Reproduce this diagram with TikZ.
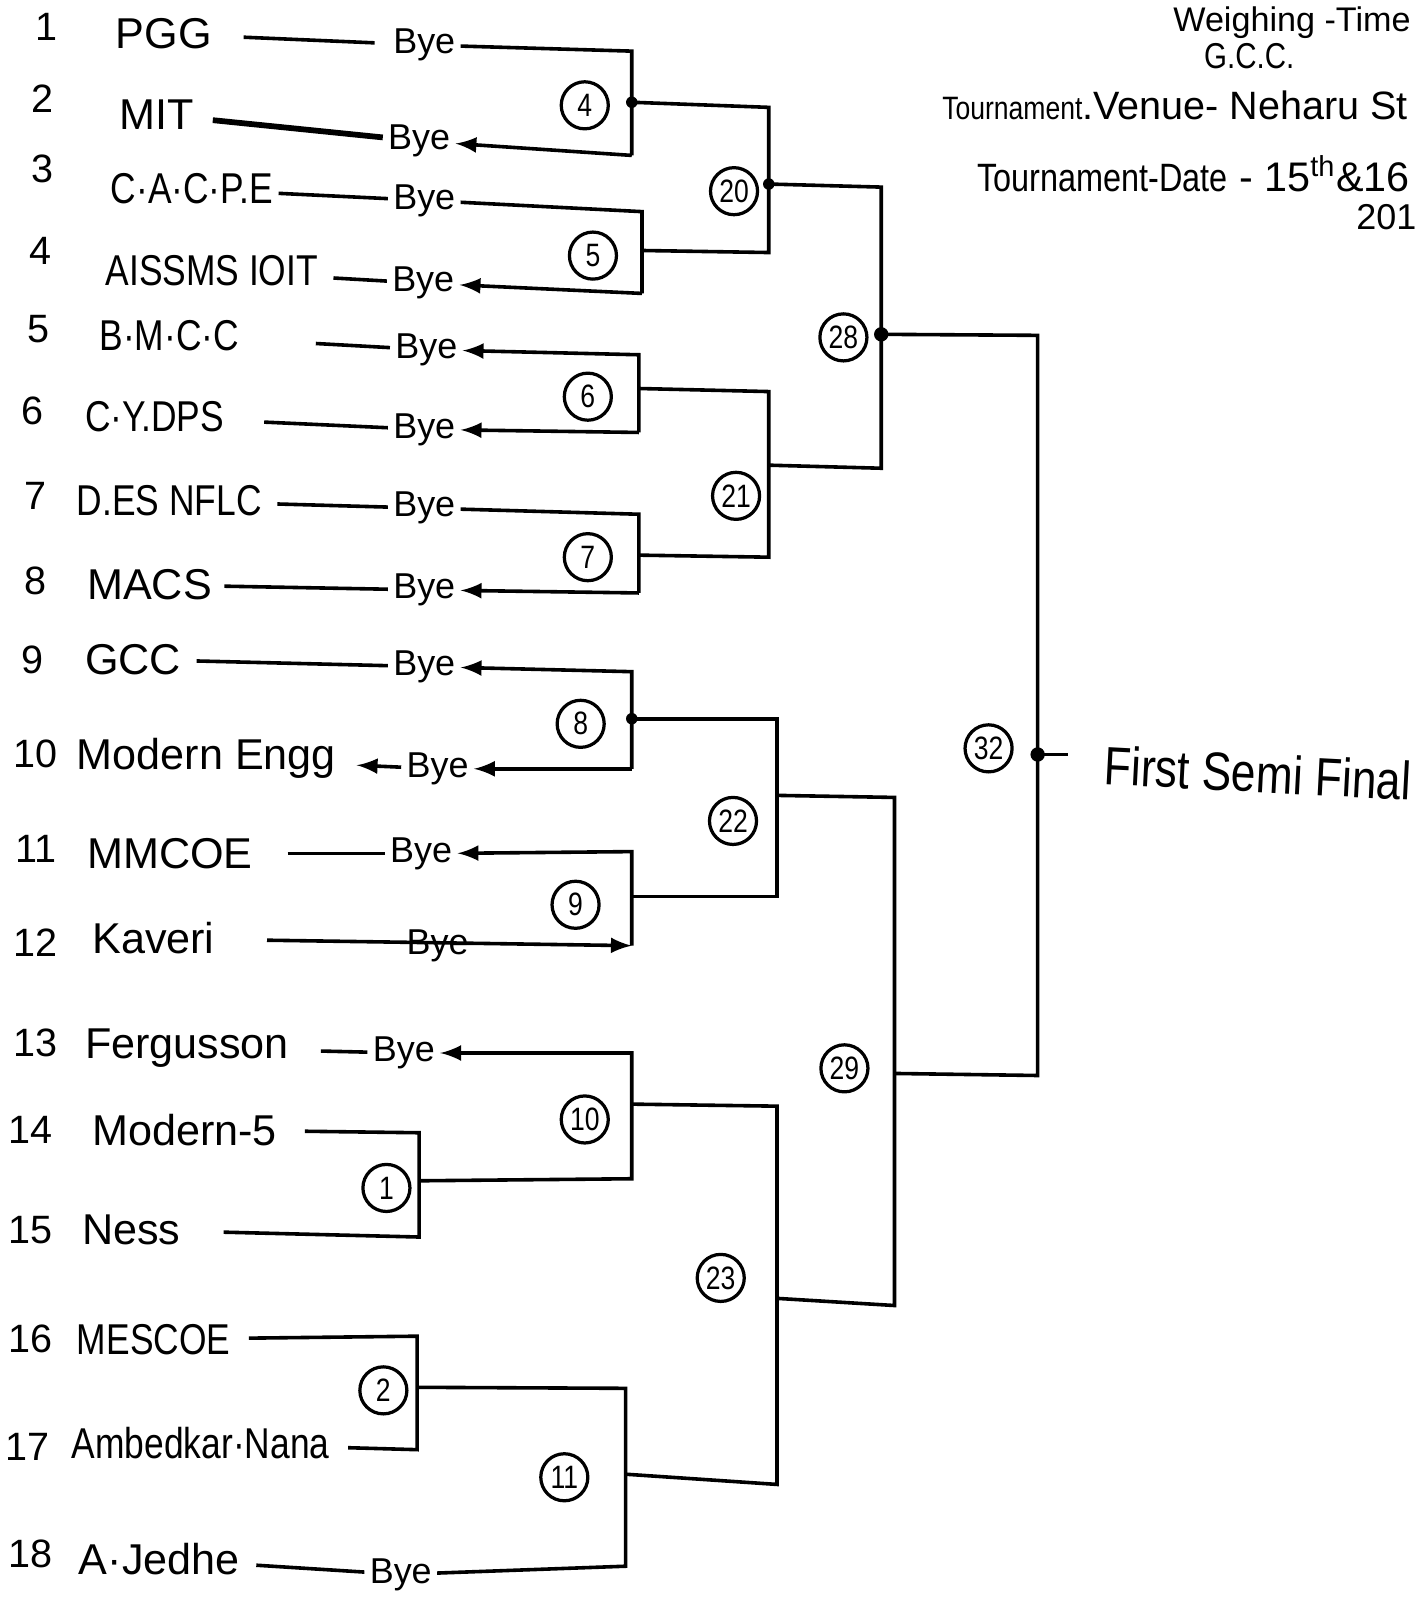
\documentclass[tikz,border=0pt]{standalone}
\usepackage{fontspec}
\setmainfont{Liberation Sans}
\newfontfamily\narrowfont{Liberation Sans}[FakeStretch=0.82]
\usepackage{tikz}
\usetikzlibrary{arrows,positioning}

\tikzset{
	team/.style={anchor=west, inner sep=1pt, font=\fontsize{12}{14}\selectfont},
	teamn/.style={team, font=\narrowfont\fontsize{12}{14}\selectfont},
	seed/.style={inner sep=1pt, font=\fontsize{11}{13}\selectfont},
	bye/.style={inner sep=1pt, font=\fontsize{10}{12}\selectfont},
	rnd/.style={draw, circle, line width=0.9pt, inner sep=0pt, minimum size=0.46cm, font=\narrowfont\fontsize{9}{10}\selectfont},
	info/.style={anchor=west, inner sep=0pt}
}

\begin{document}
\begin{tikzpicture}[x=0.01cm, y=-0.01cm, line width=1pt]
	\useasboundingbox (0,0) rectangle (1389,1568);

	\node[seed] (n1) at (45,26) {1};
	\node[team] (t1) at (108,33) {PGG};
	\node[bye] (bye1) at (415,44) {Bye};
	\node[seed] (n2) at (42,97) {2};
	\node[team] (t2) at (112,112) {MIT};
	\node[bye] (bye2) at (410,138) {Bye};
	\node[seed] (n3) at (42,165) {3};
	\node[teamn] (t3) at (103,185) {C·A·C·P.E};
	\node[bye] (bye3) at (415,196) {Bye};
	\node[seed] (n4) at (40,245) {4};
	\node[teamn] (t4) at (98,265) {AISSMS IOIT};
	\node[bye] (bye4) at (414,277) {Bye};
	\node[seed] (n5) at (38,322) {5};
	\node[teamn] (t5) at (92,328) {B·M·C·C};
	\node[bye] (bye5) at (417,342) {Bye};
	\node[seed] (n6) at (32,402) {6};
	\node[teamn] (t6) at (78,408) {C·Y.DPS};
	\node[bye] (bye6) at (415,420) {Bye};
	\node[seed] (n7) at (35,485) {7};
	\node[teamn] (t7) at (70,490) {D.ES NFLC};
	\node[bye] (bye7) at (415,497) {Bye};
	\node[seed] (n8) at (35,568) {8};
	\node[team] (t8) at (80,572) {MACS};
	\node[bye] (bye8) at (415,577) {Bye};
	\node[seed] (n9) at (32,645) {9};
	\node[team] (t9) at (78,645) {GCC};
	\node[bye] (bye9) at (415,652) {Bye};
	\node[seed] (n10) at (35,737) {10};
	\node[team] (t10) at (70,742) {Modern Engg};
	\node[bye] (bye10) at (428,752) {Bye};
	\node[seed] (n11) at (35,830) {11};
	\node[team] (t11) at (80,835) {MMCOE};
	\node[bye] (bye11) at (412,835) {Bye};
	\node[seed] (n12) at (35,922) {12};
	\node[team] (t12) at (85,918) {Kaveri};
	\node[bye] (bye12) at (428,925) {Bye};
	\node[seed] (n13) at (35,1020) {13};
	\node[team] (t13) at (78,1025) {Fergusson};
	\node[bye] (bye13) at (395,1030) {Bye};
	\node[seed] (n14) at (30,1105) {14};
	\node[team] (t14) at (85,1105) {Modern-5};
	\node[seed] (n15) at (30,1203) {15};
	\node[team] (t15) at (75,1203) {Ness};
	\node[seed] (n16) at (30,1310) {16};
	\node[teamn] (t16) at (70,1310) {MESCOE};
	\node[seed] (n17) at (27,1415) {17};
	\node[teamn] (t17) at (65,1412) {Ambedkar·Nana};
	\node[seed] (n18) at (30,1520) {18};
	\node[team] (t18) at (72,1525) {A·Jedhe};
	\node[bye] (bye18) at (392,1540) {Bye};

	\coordinate (m4a) at (618,50);   \coordinate (m4b) at (618,152);   \coordinate (m4) at (618,100);
	\coordinate (m5a) at (628,207);  \coordinate (m5b) at (628,287);   \coordinate (m5) at (628,245);
	\coordinate (m6a) at (625,347);  \coordinate (m6b) at (625,423);   \coordinate (m6) at (625,380);
	\coordinate (m7a) at (625,503);  \coordinate (m7b) at (625,580);   \coordinate (m7) at (625,543);
	\coordinate (m8a) at (618,657);  \coordinate (m8b) at (618,752);   \coordinate (m8) at (618,703);
	\coordinate (m9a) at (618,833);  \coordinate (m9b) at (618,925);   \coordinate (m9) at (618,877);
	\coordinate (m1a) at (410,1108); \coordinate (m1b) at (410,1210);  \coordinate (m1) at (410,1155);
	\coordinate (m10a) at (618,1030); \coordinate (m10b) at (618,1153); \coordinate (m10) at (618,1080);
	\coordinate (m2a) at (408,1307); \coordinate (m2b) at (408,1418);  \coordinate (m2) at (408,1357);
	\coordinate (m11a) at (612,1358); \coordinate (m11b) at (612,1532); \coordinate (m11) at (612,1442);
	\coordinate (m20a) at (752,105); \coordinate (m20b) at (752,247);  \coordinate (m20) at (752,180);
	\coordinate (m21a) at (752,383); \coordinate (m21b) at (752,545);  \coordinate (m21) at (752,455);
	\coordinate (m22a) at (760,703); \coordinate (m22b) at (760,877);  \coordinate (m22) at (760,778);
	\coordinate (m23a) at (760,1082); \coordinate (m23b) at (760,1452); \coordinate (m23) at (760,1270);
	\coordinate (m28a) at (862,183); \coordinate (m28b) at (862,458);  \coordinate (m28) at (862,327);
	\coordinate (m29a) at (875,780); \coordinate (m29b) at (875,1277); \coordinate (m29) at (875,1050);
	\coordinate (m32a) at (1015,328); \coordinate (m32b) at (1015,1052); \coordinate (m32) at (1015,738);
	\coordinate (m32e) at (1045,738);

	\draw[shorten <=0.26cm, shorten >=0.13cm] (t1) -- (bye1);
	\draw[line width=1.6pt, shorten <=0.13cm] (t2) -- (bye2);
	\draw (t3) -- (bye3);
	\draw[shorten <=0.1cm] (t4) -- (bye4);
	\draw[shorten <=0.7cm] (t5) -- (bye5);
	\draw[shorten <=0.34cm] (t6) -- (bye6);
	\draw[shorten <=0.1cm] (t7) -- (bye7);
	\draw[shorten <=0.07cm] (t8) -- (bye8);
	\draw[shorten <=0.1cm] (t9) -- (bye9);
	\draw[-latex, shorten >=0.15cm] (bye10) -- (t10);
	\draw[shorten <=0.29cm] (t11) -- (bye11);
	\draw[-latex, shorten <=0.46cm] (t12) -- (m9b);
	\draw[shorten <=0.26cm] (t13) -- (bye13);
	\draw[shorten <=0.11cm] (t18) -- (bye18);

	\draw (bye1) -- (m4a) -- (m4b);
	\draw[latex-] (bye2) -- (m4b);
	\draw (bye3) -- (m5a) -- (m5b);
	\draw[latex-] (bye4) -- (m5b);
	\draw[latex-] (bye5) -- (m6a) -- (m6b);
	\draw[latex-] (bye6) -- (m6b);
	\draw (bye7) -- (m7a) -- (m7b);
	\draw[latex-] (bye8) -- (m7b);
	\draw[latex-] (bye9) -- (m8a) -- (m8b);
	\draw[latex-] (bye10) -- (m8b);
	\draw[latex-] (bye11) -- (m9a) -- (m9b);
	\draw[latex-] (bye13) -- (m10a) -- (m10b) -- (m1);
	\draw[shorten <=0.22cm, shorten >=0.37cm] (t14) -- (m1a) -- (m1b) -- (t15);
	\draw[shorten <=0.13cm, shorten >=0.13cm] (t16) -- (m2a) -- (m2b) -- (t17);
	\draw (m2) -- (m11a) -- (m11b) -- (bye18);

	\draw (m4) -- (m20a) -- (m20b) -- (m5);
	\draw (m6) -- (m21a) -- (m21b) -- (m7);
	\draw (m8) -- (m22a) -- (m22b) -- (m9);
	\draw (m10) -- (m23a) -- (m23b) -- (m11);
	\draw (m20) -- (m28a) -- (m28b) -- (m21);
	\draw (m22) -- (m29a) -- (m29b) -- (m23);
	\draw (m28) -- (m32a) -- (m32b) -- (m29);
	\draw (m32) -- (m32e);
	\fill (m4) circle (1.6pt);
	\fill (m8) circle (1.6pt);
	\fill (m20) circle (1.6pt);
	\fill (m28) circle (2pt);
	\fill (m32) circle (2pt);

	\node[rnd] (c4) at (572,103) {4};
	\node[rnd] (c5) at (580,250) {5};
	\node[rnd] (c6) at (575,388) {6};
	\node[rnd] (c7) at (575,545) {7};
	\node[rnd] (c8) at (568,708) {8};
	\node[rnd] (c9) at (563,885) {9};
	\node[rnd] (c1) at (378,1162) {1};
	\node[rnd] (c10) at (572,1095) {10};
	\node[rnd] (c2) at (375,1360) {2};
	\node[rnd] (c11) at (552,1445) {11};
	\node[rnd] (c20) at (718,187) {20};
	\node[rnd] (c21) at (720,485) {21};
	\node[rnd] (c22) at (717,803) {22};
	\node[rnd] (c23) at (705,1250) {23};
	\node[rnd] (c28) at (825,330) {28};
	\node[rnd] (c29) at (826,1045) {29};
	\node[rnd] (c32) at (967,732) {32};

	\node[anchor=west, rotate=-3, inner sep=1pt, font=\narrowfont\fontsize{15}{18}\selectfont] (semi) at (1075,748) {First Semi Final};

	\node[info, font=\fontsize{9.5}{11}\selectfont] (wtime) at (1146,22) {Weighing -Time};
	\node[inner sep=0pt, font=\narrowfont\fontsize{10}{12}\selectfont] (gcc) at (1222,55) {G.C.C.};
	\node[info, font=\fontsize{11}{13}\selectfont] (venue) at (920,103) {{\narrowfont\fontsize{9}{11}\selectfont Tournament}.Venue- Neharu St};
	\node[info, font=\fontsize{11.5}{14}\selectfont] (tdate) at (954,170) {{\narrowfont\fontsize{11}{13}\selectfont Tournament-Date} - 15\textsuperscript{th}\&16};
	\node[info, font=\fontsize{10}{12}\selectfont] (year) at (1325,212) {201};
\end{tikzpicture}
\end{document}
